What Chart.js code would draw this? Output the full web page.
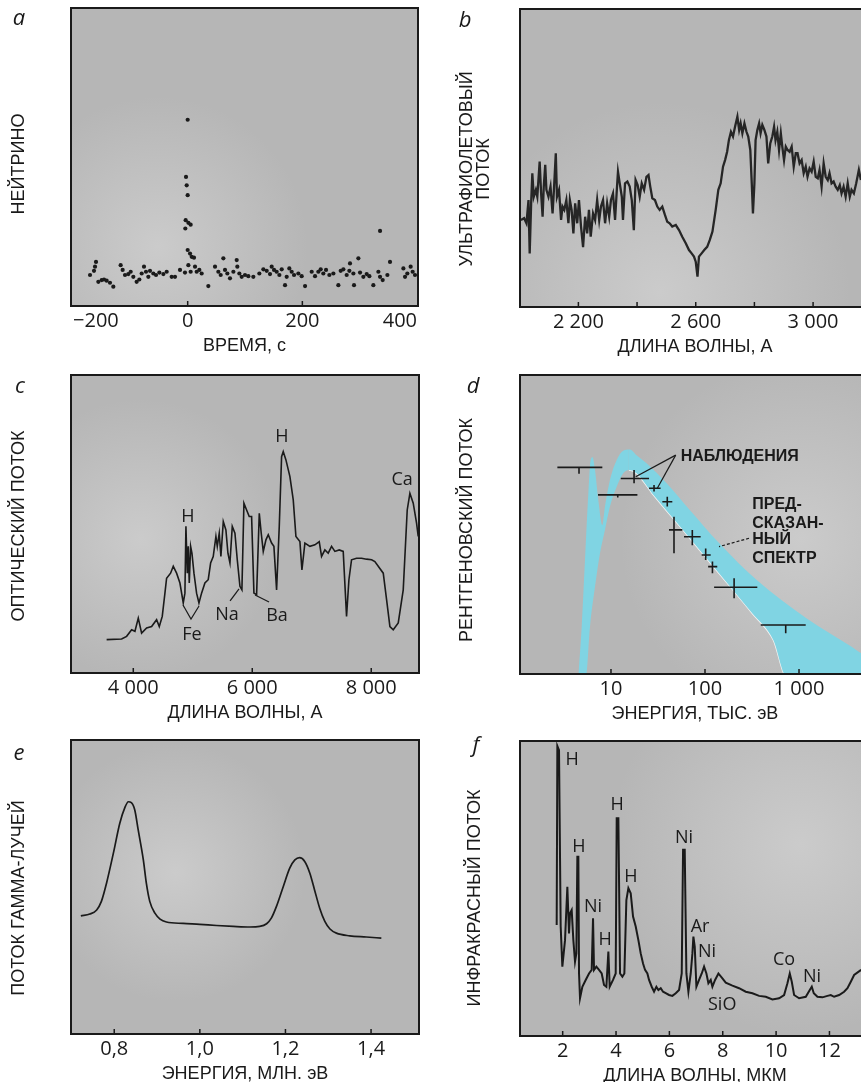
<!DOCTYPE html>
<html>
<head>
<meta charset="utf-8">
<script src="https://cdn.jsdelivr.net/npm/chart.js@4.4.1/dist/chart.umd.min.js"></script>
<style>
  html, body { margin: 0; padding: 0; background: #fff; width: 861px; height: 1082px; overflow: hidden; }
  .cell { position: absolute; overflow: hidden; }
  canvas { display: block; }
</style>
</head>
<body>
<div class="cell" style="left:0;top:0;width:440px;height:358px"><canvas id="pa" width="440" height="358"></canvas></div>
<div class="cell" style="left:440px;top:0;width:421px;height:359px"><canvas id="pb" width="440" height="359"></canvas></div>
<div class="cell" style="left:0;top:360px;width:440px;height:365px"><canvas id="pc" width="440" height="365"></canvas></div>
<div class="cell" style="left:440px;top:360px;width:421px;height:366px"><canvas id="pd" width="440" height="366"></canvas></div>
<div class="cell" style="left:0;top:725px;width:440px;height:361px"><canvas id="pe" width="440" height="361"></canvas></div>
<div class="cell" style="left:440px;top:725px;width:421px;height:363px"><canvas id="pf" width="440" height="363"></canvas></div>
<script>
// a: neutrino events vs time (s), arbitrary vertical units
const A_T = [0,-2.9,-1.7,0,-3.5,1.2,-4.1,5.2,335.5,
  -159.9,-161.6,-163.4,-170.3,-155.8,-150,-145.9,-141.3,-135.5,-129.7,
  -116.9,-113.4,-109.3,-103.5,-99.4,-94.8,-89,-84.3,-80.2,-76.2,
  -72.7,-68.6,-65.7,-59.9,-55.2,-49.4,-42.4,-36.6,-27.9,-22.1,
  -13.4,-4.7,0,4.1,7,11,1.2,5.2,12.8,15.7,
  20.3,24.4,36,47.7,53.5,57.6,62.2,65.1,69.2,73.8,
  79.7,85.5,86.6,90.1,94.2,100,105.8,114.5,125,132,
  137.8,143.6,146.5,150.6,155.2,159.9,164,169.8,172.7,177.3,
  181.4,185.5,193,198.8,204.7,216.3,222.1,227.9,232,236.6,
  241.3,247.1,254.1,262.8,266.9,271.5,277.3,282,283.1,289,
  290.1,297.7,300.6,306.4,312.2,316.9,323.8,332.6,335.5,340.1,
  348.3,352.9,376.2,379.1,383.1,388.9,392.4,396.5];
const A_N = [62.5,43.3,40.5,37.2,28.8,27.9,26.0,27.3,25.2,
  14.8,13.2,11.8,10.4,8.1,8.7,8.9,8.5,7.8,6.5,
  13.7,12.1,10.4,10.7,11.5,9.8,8.1,8.9,10.9,13.2,
  11.5,9.8,11.8,10.9,10.4,11.2,10.7,11.5,9.8,9.8,
  12.1,11.2,18.8,17.6,16.5,16.2,13.7,11.5,13.2,11.5,
  12.1,10.9,6.7,13.2,11.5,10.4,16.0,12.1,10.9,9.3,
  11.5,15.4,13.2,10.9,9.8,10.4,10.0,9.8,10.9,12.3,
  11.8,10.7,13.2,12.1,11.5,10.4,12.3,7.0,9.8,12.6,
  11.5,10.4,10.9,10.0,6.7,11.5,10.0,11.5,12.3,10.9,
  12.1,10.4,10.9,7.0,11.8,12.3,10.4,11.8,14.3,10.9,
  7.0,16.0,11.2,9.8,10.7,10.0,7.0,11.5,9.8,8.7,
  10.4,14.8,12.6,9.8,10.9,13.2,11.5,10.4];
const A_TICKS = [-200, 0, 200, 400];

// b: ultraviolet flux vs wavelength (A)
const B_WL = [2004,2015,2023,2030,2034,2039,2043,2048,2055,2060,2068,2073,2078,2082,2087,2091,2098,2105,2112,2116,
  2123,2127,2134,2141,2146,2152,2159,2166,2171,2177,2183,2189,2196,2202,2209,2216,2223,2230,2236,2242,
  2250,2257,2264,2271,2277,2284,2291,2298,2305,2311,2318,2325,2331,2335,2341,2348,2352,2359,2367,2375,
  2382,2389,2395,2402,2409,2416,2424,2432,2439,2445,2452,2461,2469,2477,2486,2495,2503,2511,2520,2532,
  2543,2554,2566,2577,2586,2594,2600,2606,2611,2620,2629,2639,2648,2657,2668,2677,2685,2693,2700,2707,
  2713,2720,2727,2734,2742,2748,2753,2759,2766,2773,2779,2786,2791,2795,2800,2804,2810,2816,2821,2827,
  2834,2841,2847,2854,2861,2867,2872,2878,2884,2890,2895,2901,2907,2913,2920,2927,2934,2941,2947,2954,
  2961,2968,2975,2981,2988,2995,3002,3009,3016,3022,3029,3036,3043,3050,3056,3063,3070,3077,3084,3091,
  3097,3104,3111,3118,3125,3131,3139,3147,3156,3163];
const B_FLUX = [29.2,29.8,28.1,35.9,18.0,34.8,44.9,37.0,39.3,37.0,48.8,38.1,30.3,40.4,47.7,39.3,37.0,40.4,31.4,38.1,
  51.6,37.0,39.3,29.2,33.7,32.6,35.9,28.1,35.9,32.6,24.7,34.8,28.1,35.9,27.0,20.1,30.3,24.7,32.6,23.6,
  31.4,29.2,35.9,29.2,33.7,35.9,28.1,34.8,30.3,35.9,38.1,29.2,39.3,45.4,41.5,37.0,29.2,41.5,42.1,40.4,
  35.9,25.8,42.6,40.9,37.0,41.5,39.3,43.7,44.3,40.4,36.5,35.9,33.7,32.6,33.7,30.9,28.6,28.1,27.0,27.5,
  25.8,23.6,21.4,19.1,18.0,16.9,15.2,10.2,16.9,18.0,19.1,20.2,22.5,25.3,32.6,39.3,41.5,47.1,49.3,52.1,
  56.0,58.8,57.2,60.5,63.9,59.4,61.6,58.3,61.6,58.8,57.2,52.7,41.5,31.4,41.5,56.0,59.4,61.6,58.3,61.1,
  59.4,57.2,48.2,54.9,57.2,60.5,56.0,58.8,52.7,58.3,53.8,49.3,53.8,52.7,52.1,53.8,47.1,51.6,51.6,48.2,
  49.3,44.9,47.1,43.7,46.5,45.4,48.8,43.7,43.2,46.0,40.4,48.2,43.7,42.6,44.9,41.5,42.1,40.4,39.3,40.9,
  38.1,40.4,37.0,41.5,37.0,39.3,38.1,41.5,46.0,42.6];
const B_TICKS = [2200, 2400, 2600, 2800, 3000];
const B_LABELLED = [2200, 2600, 3000];

// c: optical flux vs wavelength (A)
const C_WL = [3552,3804,3888,3972,4028,4084,4140,4224,4308,4392,4437,4487,4532,4560,4627,4672,4728,4784,4840,4868,
  4885,4908,4924,4941,4964,4986,5020,5064,5104,5148,5204,5260,5300,5344,5389,5412,5445,5473,5513,5557,
  5591,5625,5664,5709,5748,5793,5826,5860,5905,5949,5989,6028,6073,6118,6151,6185,6230,6269,6325,6364,
  6409,6454,6493,6521,6566,6633,6689,6734,6801,6835,6885,6969,7053,7126,7165,7221,7277,7333,7389,7462,
  7529,7585,7625,7669,7753,7837,7921,8006,8061,8202,8258,8314,8370,8454,8538,8605,8650,8706,8762,8790];
const C_FLUX = [11.2,11.4,12.3,14.5,14.0,18.4,13.4,15.1,15.6,17.9,15.6,19.0,26.8,31.8,33.5,35.8,33.5,30.2,23.5,26.8,
  49.2,33.5,42.5,30.2,42.5,40.2,33.5,26.8,23.5,26.8,30.2,31.3,36.9,39.1,45.8,42.5,46.9,39.1,50.8,48.0,
  40.2,36.9,49.2,46.9,38.0,29.1,27.9,57.0,54.7,52.5,52.5,26.8,26.3,53.6,46.9,40.8,44.7,46.4,43.6,42.5,
  27.9,49.2,72.6,74.3,71.5,65.9,58.1,45.8,44.1,34.6,43.6,42.5,43.0,44.1,39.1,41.3,40.2,42.5,40.8,41.3,
  40.8,19.0,31.3,38.0,38.5,38.5,38.2,38.0,37.4,33.5,24.6,15.6,14.5,16.8,27.9,54.7,60.3,57.0,50.3,45.8];
const C_TICKS = [4000, 6000, 8000];
const C_NOTE_TEXT = ['H', 'H', 'Ca', 'Fe', 'Na', 'Ba'];
const C_NOTE_WL = [4919, 6500, 8518, 4986, 5575, 6416];
const C_NOTE_Y = [52.3, 79.2, 64.8, 12.8, 19.5, 19.1];
const C_LEADERS = [
  [[4836, 22.8], [4970, 18.1], [5105, 22.5]],
  [[5627, 24.2], [5778, 28.2]],
  [[6047, 26.2], [6282, 23.8]]
];

// d: X-ray flux vs energy (keV), predicted band and observations
const D_UP_E = [4.49,4.88,5.29,5.74,6.08,6.38,6.76,7.33,8.09,8.63,9.75,11.5,13.5,15.9,18.7,23.9,39.1,69.2,141,355,1208,3664,4571,6440];
const D_UP_F = [-1,15.8,38.1,60.4,71.6,72.5,68.2,58.2,49.8,56.0,64.9,71.6,74.7,75.1,73.2,70.5,63.8,54.8,43.8,31.4,18.6,9.0,6.9,4.0];
const D_LO_E = [4.49,5.42,5.98,6.76,7.64,8.63,9.75,11.5,13.5,15.5,18.7,27.5,62.3,141,318,533,740,6440];
const D_LO_F = [-1,-1,15.8,29.2,40.4,48.2,56.0,62.6,67.1,68.2,67.1,60.4,47.1,33.7,20.3,11.4,-1,-1];
const OBS_E = [4.57, 17.6, 11.8, 28.7, 39.7, 46.8, 73.3, 101.7, 120, 204, 722];
const OBS_E_LO = [2.69, 12.7, 7.28, 25.4, 35.2, 41.4, 59.8, 92.2, 108, 125, 392];
const OBS_E_HI = [8.09, 25.4, 19.1, 33.7, 44.9, 57.4, 89.9, 115, 135, 360, 1178];
const OBS_F = [69.1, 65.4, 59.9, 62.1, 57.6, 48.2, 45.9, 39.8, 35.9, 29.0, 16.4];
const OBS_F_LO = [67.0, 63.8, 59.0, 61.0, 56.0, 40.4, 43.1, 38.1, 33.7, 25.3, 13.6];
const OBS_F_HI = [69.1, 68.2, 59.9, 63.2, 59.3, 52.6, 48.2, 42.0, 37.6, 32.0, 16.4];
const D_TICKS = [10, 100, 1000];
const D_NOTE_TEXT = ['НАБЛЮДЕНИЯ', 'ПРЕД-', 'СКАЗАН-', 'НЫЙ', 'СПЕКТР'];
const D_NOTE_E = [55.1, 318, 318, 318, 318];
const D_NOTE_F = [72.6, 56.5, 50.4, 44.8, 38.7];
const D_LEADERS = [
  [[48.8, 73.2], [18.3, 66.0]],
  [[48.8, 73.2], [31.1, 62.1]]
];
const D_DASHED = [[[294, 45.4], [141, 42.6]]];

// e: gamma-ray flux vs energy (MeV)
const E_EN = [0.722,0.743,0.759,0.770,0.782,0.798,0.813,0.825,0.833,0.840,0.848,0.856,0.868,0.875,0.883,0.895,0.907,0.922,0.961,
  1.000,1.039,1.078,1.117,1.140,1.156,1.167,1.179,1.195,1.210,1.222,1.233,1.245,1.257,1.268,1.280,1.292,1.304,1.319,1.350,1.389,1.424];
const E_FLUX = [40.2,40.8,42.2,45.1,51.3,61.5,71.7,77.1,79.0,78.7,76.2,69.4,59.2,51.3,45.1,41.1,39.1,38.1,37.6,
  37.3,36.9,36.6,36.4,36.6,37.5,39.4,43.4,50.2,56.4,59.2,60.0,58.7,54.7,49.0,42.8,38.3,35.7,34.3,33.4,33.0,32.6];
const E_TICKS = [0.8, 1.0, 1.2, 1.4];

// f: infrared flux vs wavelength (micron)
const F_WL = [1.775,1.8,1.8625,1.925,1.9875,2.0875,2.175,2.2375,2.275,2.3375,2.4,2.4625,2.5125,2.55,2.5875,2.6125,2.65,2.7375,2.8625,2.9875,
  3.0875,3.1375,3.175,3.2625,3.3625,3.4625,3.55,3.6375,3.7125,3.7625,3.8875,3.9875,4.025,4.0875,4.15,4.2375,4.3125,4.3875,4.4625,4.55,
  4.6375,4.7375,4.8375,4.925,5.0125,5.0875,5.175,5.2375,5.3375,5.425,5.5125,5.5875,5.675,5.7625,5.8625,5.9875,6.1125,6.2375,6.3625,6.4625,
  6.5125,6.575,6.6375,6.7125,6.8,6.8625,6.9,6.95,7.0125,7.1125,7.2125,7.3,7.3875,7.4625,7.55,7.6125,7.7125,7.8375,7.9875,8.1125,
  8.3625,8.6125,8.8625,9.1125,9.3625,9.6125,9.8625,10.1125,10.3,10.425,10.5125,10.5875,10.675,10.8625,11.1125,11.2625,11.3375,11.4125,11.55,11.7375,
  11.925,12.05,12.175,12.3625,12.55,12.675,12.8,12.925,13.1875];
const F_FLUX = [37.6,98.3,96.9,37.1,23.5,32.5,50.6,34.8,41.6,42.7,32.5,25.2,28.0,60.8,60.8,21.2,12.8,16.7,19.0,21.2,
  22.4,39.9,22.4,23.5,22.4,21.2,17.3,16.7,28.6,16.7,19.0,21.2,73.8,73.8,21.2,20.1,21.2,46.1,50.1,48.4,
  40.5,37.1,32.5,28.0,24.6,22.4,21.2,19.0,16.7,15.0,16.7,15.6,16.2,15.0,14.5,13.9,13.6,14.5,15.6,21.2,
  63.1,63.1,21.2,15.0,21.2,28.0,33.7,30.3,16.7,19.0,21.2,23.5,21.2,17.9,19.0,16.7,19.0,21.2,19.5,18.1,
  17.1,16.2,15.0,14.5,13.6,13.3,12.4,12.8,13.9,17.9,21.2,18.4,13.9,12.8,13.3,15.6,16.7,14.5,13.3,13.1,
  13.6,13.9,13.3,13.9,15.0,16.2,18.4,20.7,22.4];
const F_TICKS = [2, 4, 6, 8, 10, 12];
const F_NOTE_TEXT = ['H', 'H', 'H', 'H', 'Ni', 'H', 'Ni', 'Ar', 'Ni', 'SiO', 'Co', 'Ni'];
const F_NOTE_WL = [2.35, 2.61, 4.04, 4.56, 3.14, 3.59, 6.55, 7.15, 7.41, 7.98, 10.30, 11.35];
const F_NOTE_Y = [93.6, 64.1, 78.3, 53.9, 43.7, 32.5, 67.1, 36.9, 28.5, 10.5, 25.8, 20.0];

const INK = '#1a1a1a';
const PLOT_BG = '#b6b6b6';
const CYAN = '#80d4e3';
const TICK_FONT = { family: '"Open Sans", "Noto Sans", sans-serif', size: 20 };
const TITLE_FONT = { family: '"Liberation Sans", Arial, sans-serif', size: 18 };
const LABEL_FONT = '18px "Liberation Sans", Arial, sans-serif';
const LETTER_FONT = 'italic 22px "Open Sans", sans-serif';
const NOTE_FONT = '18px "Open Sans", "Noto Sans", sans-serif';
const NOTE_BOLD = 'bold 16px "Liberation Sans", Arial, sans-serif';

const pts = (xs, ys) => xs.map((x, i) => ({ x, y: ys[i] }));
const spaced = v => Math.abs(v) >= 1000 ? String(v).replace(/(\d)(\d{3})$/, '$1 $2') : String(v);

// per-panel decoration: letter, rotated y label, lighter stipple patch, notes
const DECOR = {
  pa: { letter: ['a', 19, 25], ylab: [['НЕЙТРИНО', 19, 164]], glow: [0.25, 0.8, 150] },
  pb: { letter: ['b', 25, 27], ylab: [['УЛЬТРАФИОЛЕТОВЫЙ', 27, 169], ['ПОТОК', 44, 169]], glow: [0.4, 0.95, 190] },
  pc: { letter: ['c', 20, 33], ylab: [['ОПТИЧЕСКИЙ ПОТОК', 19, 166]], glow: [0.2, 0.55, 140],
        notes: { text: C_NOTE_TEXT, x: C_NOTE_WL, y: C_NOTE_Y, font: NOTE_FONT, align: 'center' },
        leaders: C_LEADERS },
  pd: { letter: ['d', 33, 33], ylab: [['РЕНТГЕНОВСКИЙ ПОТОК', 27, 170]], glow: [0.8, 0.55, 180],
        notes: { text: D_NOTE_TEXT, x: D_NOTE_E, y: D_NOTE_F, font: NOTE_BOLD, align: 'left' },
        leaders: D_LEADERS, dashed: D_DASHED, bars: true },
  pe: { letter: ['e', 19, 35], ylab: [['ПОТОК ГАММА-ЛУЧЕЙ', 19, 173]], glow: [0.3, 0.45, 130] },
  pf: { letter: ['f', 36, 27], ylab: [['ИНФРАКРАСНЫЙ ПОТОК', 35, 173]], glow: [0.8, 0.35, 190],
        notes: { text: F_NOTE_TEXT, x: F_NOTE_WL, y: F_NOTE_Y, font: NOTE_FONT, align: 'center' } }
};

function polyline(ctx, x, y, list) {
  list.forEach(line => {
    ctx.beginPath();
    line.forEach(([vx, vy], i) => {
      const px = x.getPixelForValue(vx), py = y.getPixelForValue(vy);
      if (i) ctx.lineTo(px, py); else ctx.moveTo(px, py);
    });
    ctx.stroke();
  });
}

const decor = {
  id: 'decor',
  beforeDatasetsDraw(chart) {
    const d = DECOR[chart.canvas.id];
    const { ctx, chartArea: a } = chart;
    ctx.save();
    ctx.fillStyle = PLOT_BG;
    ctx.fillRect(a.left, a.top, a.width, a.height);
    const gx = a.left + d.glow[0] * a.width, gy = a.top + d.glow[1] * a.height;
    const g = ctx.createRadialGradient(gx, gy, 0, gx, gy, d.glow[2]);
    g.addColorStop(0, 'rgba(212,212,212,0.7)');
    g.addColorStop(1, 'rgba(212,212,212,0)');
    ctx.fillStyle = g;
    ctx.fillRect(a.left, a.top, a.width, a.height);
    ctx.restore();
  },
  afterDatasetsDraw(chart) {
    const d = DECOR[chart.canvas.id];
    const { ctx, chartArea: a } = chart;
    const x = chart.scales.x, y = chart.scales.y;
    ctx.save();
    ctx.beginPath();
    ctx.rect(a.left, a.top, a.width, a.height);
    ctx.clip();
    ctx.strokeStyle = INK;
    ctx.fillStyle = INK;

    // small tick marks inside the frame
    ctx.lineWidth = 1.5;
    x.ticks.forEach(t => {
      const px = x.getPixelForValue(t.value);
      if (px < a.left + 3 || px > a.right - 3) return;
      ctx.beginPath();
      ctx.moveTo(px, a.bottom);
      ctx.lineTo(px, a.bottom - 5);
      ctx.stroke();
    });

    if (d.bars) {
      ctx.lineWidth = 1.6;
      OBS_E.forEach((e, i) => {
        const py = y.getPixelForValue(OBS_F[i]);
        const px = x.getPixelForValue(e);
        ctx.beginPath();
        ctx.moveTo(x.getPixelForValue(OBS_E_LO[i]), py);
        ctx.lineTo(x.getPixelForValue(OBS_E_HI[i]), py);
        ctx.moveTo(px, y.getPixelForValue(OBS_F_LO[i]));
        ctx.lineTo(px, y.getPixelForValue(OBS_F_HI[i]));
        ctx.stroke();
      });
    }

    ctx.lineWidth = 1.2;
    if (d.leaders) polyline(ctx, x, y, d.leaders);
    if (d.dashed) {
      ctx.setLineDash([3, 2]);
      polyline(ctx, x, y, d.dashed);
      ctx.setLineDash([]);
    }

    if (d.notes) {
      ctx.font = d.notes.font;
      ctx.textAlign = d.notes.align;
      ctx.textBaseline = 'middle';
      d.notes.text.forEach((s, i) => {
        ctx.fillText(s, x.getPixelForValue(d.notes.x[i]), y.getPixelForValue(d.notes.y[i]));
      });
    }
    ctx.restore();

    ctx.save();
    ctx.strokeStyle = INK;
    ctx.lineWidth = 2;
    ctx.strokeRect(a.left, a.top, a.width, a.height);
    ctx.restore();
  },
  afterDraw(chart) {
    const d = DECOR[chart.canvas.id];
    const ctx = chart.ctx;
    ctx.save();
    ctx.fillStyle = INK;
    ctx.font = LABEL_FONT;
    ctx.textAlign = 'center';
    ctx.textBaseline = 'middle';
    d.ylab.forEach(([s, lx, ly]) => {
      ctx.save();
      ctx.translate(lx, ly);
      ctx.rotate(-Math.PI / 2);
      ctx.fillText(s, 0, 0);
      ctx.restore();
    });
    ctx.font = LETTER_FONT;
    ctx.textBaseline = 'alphabetic';
    ctx.fillText(d.letter[0], d.letter[1], d.letter[2]);
    ctx.restore();
  }
};

function panelOptions(cfg) {
  return {
    responsive: false,
    animation: false,
    devicePixelRatio: 1,
    events: [],
    layout: { padding: { left: cfg.left, top: cfg.top, right: cfg.right, bottom: 0 } },
    plugins: { legend: { display: false }, tooltip: { enabled: false } },
    scales: {
      x: {
        type: cfg.type || 'linear',
        min: cfg.min,
        max: cfg.max,
        grid: { display: false, drawTicks: false },
        border: { display: false },
        afterBuildTicks: s => { s.ticks = cfg.ticks.map(v => ({ value: v })); },
        afterFit: s => { s.height = 52; },
        ticks: {
          padding: 3,
          color: INK,
          font: TICK_FONT,
          align: cfg.align || 'center',
          maxRotation: 0,
          autoSkip: false,
          callback: cfg.fmt
        },
        title: { display: true, text: cfg.title, color: INK, font: TITLE_FONT, padding: { top: 0, bottom: 1 } }
      },
      y: { display: false, min: 0, max: 100 }
    }
  };
}

const lineStyle = (w) => ({ borderColor: INK, borderWidth: w, pointRadius: 0, fill: false, tension: 0 });

new Chart(document.getElementById('pa'), {
  type: 'scatter',
  data: { datasets: [{ data: pts(A_T, A_N), pointRadius: 2.1, pointBackgroundColor: INK, pointBorderWidth: 0 }] },
  options: panelOptions({ left: 71, top: 8, right: 22, min: -203.5, max: 401.7, ticks: A_TICKS, align: 'inner',
    fmt: v => (v < 0 ? '\u2212' + Math.abs(v) : String(v)), title: 'ВРЕМЯ, с' }),
  plugins: [decor]
});

new Chart(document.getElementById('pb'), {
  type: 'line',
  data: { datasets: [Object.assign({ data: pts(B_WL, B_FLUX) }, lineStyle(2.3), { borderColor: '#262626' })] },
  options: panelOptions({ left: 80, top: 9, right: 10, min: 2001, max: 3194, ticks: B_TICKS,
    fmt: v => (B_LABELLED.includes(v) ? spaced(v) : ''), title: 'ДЛИНА ВОЛНЫ, А' }),
  plugins: [decor]
});

new Chart(document.getElementById('pc'), {
  type: 'line',
  data: { datasets: [Object.assign({ data: pts(C_WL, C_FLUX) }, lineStyle(1.6))] },
  options: panelOptions({ left: 71, top: 15, right: 21, min: 2953, max: 8803, ticks: C_TICKS,
    fmt: v => spaced(v), title: 'ДЛИНА ВОЛНЫ, А' }),
  plugins: [decor]
});

new Chart(document.getElementById('pd'), {
  type: 'line',
  data: {
    datasets: [
      { data: pts(D_UP_E, D_UP_F), borderWidth: 0, pointRadius: 0, backgroundColor: CYAN, fill: '+1',
        cubicInterpolationMode: 'monotone' },
      { data: pts(D_LO_E, D_LO_F), borderWidth: 1.5, pointRadius: 0, fill: false,
        cubicInterpolationMode: 'monotone', borderColor: 'rgba(0,0,0,0)',
        segment: { borderColor: c => (c.p0.parsed.x >= 14 ? 'rgba(250,250,250,0.9)' : 'rgba(0,0,0,0)') } }
    ]
  },
  options: panelOptions({ left: 80, top: 15, right: 10, type: 'logarithmic', min: 1.077, max: 5690, ticks: D_TICKS,
    fmt: v => spaced(v), title: 'ЭНЕРГИЯ, ТЫС. эВ' }),
  plugins: [decor]
});

new Chart(document.getElementById('pe'), {
  type: 'line',
  data: { datasets: [Object.assign({ data: pts(E_EN, E_FLUX) }, lineStyle(1.7), { cubicInterpolationMode: 'monotone' })] },
  options: panelOptions({ left: 71, top: 15, right: 21, min: 0.699, max: 1.512, ticks: E_TICKS,
    fmt: v => v.toFixed(1).replace('.', ','), title: 'ЭНЕРГИЯ, МЛН. эВ' }),
  plugins: [decor]
});

new Chart(document.getElementById('pf'), {
  type: 'line',
  data: { datasets: [Object.assign({ data: pts(F_WL, F_FLUX) }, lineStyle(2))] },
  options: panelOptions({ left: 80, top: 16, right: 10, min: 0.4, max: 13.52, ticks: F_TICKS,
    fmt: v => String(v), title: 'ДЛИНА ВОЛНЫ, МКМ' }),
  plugins: [decor]
});
</script>
</body>
</html>
